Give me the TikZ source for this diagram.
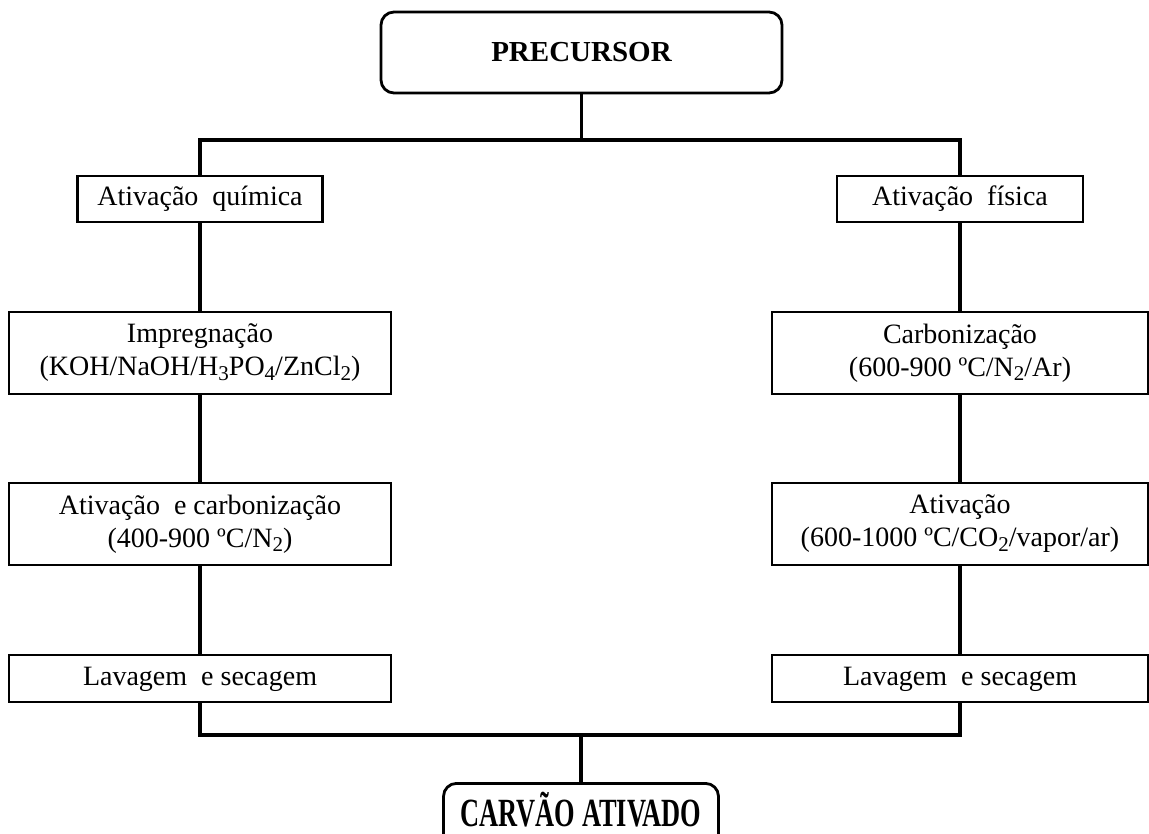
\documentclass[tikz,border=0pt]{standalone}
\usepackage{fontspec}
\setmainfont{Liberation Serif}
\newcommand{\chemsub}[1]{\raisebox{-0.35ex}{\fontsize{21}{21}\selectfont #1}}
\begin{document}
\begin{tikzpicture}[x=1pt,y=-1pt,
  box/.style={draw,line width=2.8pt,inner sep=0pt,align=center,font=\fontsize{28}{33}\selectfont},
  rbox/.style={box,rounded corners=13pt},
  conn/.style={line width=3.2pt}]
\clip (0,0) rectangle (1149,834);
\fill[white] (0,0) rectangle (1149,834);
\coordinate (top) at (0,140);
\coordinate (bot) at (0,735);
\node[rbox,minimum width=401pt,minimum height=81pt,font=\fontsize{29}{33}\selectfont\bfseries] (prec) at (581.5,52.5) {PRECURSOR};
\node[box,minimum width=245pt,minimum height=46pt] (quim) at (200,199) {\strut Ativação \ química};
\node[box,minimum width=246pt,minimum height=46pt] (fis) at (960,199) {\strut Ativação \ física};
\node[box,minimum width=382pt,minimum height=82pt] (imp) at (200,353) {Impregnação\\(KOH/NaOH/H\chemsub{3}PO\chemsub{4}/ZnCl\chemsub{2})};
\node[box,minimum width=376pt,minimum height=82pt] (carb) at (960,353) {Carbonização\\(600-900 ºC/N\chemsub{2}/Ar)};
\node[box,minimum width=382pt,minimum height=82pt] (atcarb) at (200,524) {Ativação \ e carbonização\\(400-900 ºC/N\chemsub{2})};
\node[box,minimum width=376pt,minimum height=82pt] (at) at (960,524) {Ativação\\(600-1000 ºC/CO\chemsub{2}/vapor/ar)};
\node[box,minimum width=382pt,minimum height=47pt] (lavq) at (200,678.5) {\strut Lavagem \ e secagem};
\node[box,minimum width=376pt,minimum height=47pt] (lavf) at (960,678.5) {\strut Lavagem \ e secagem};
\node[rbox,anchor=north,minimum width=275pt,minimum height=72pt] (carv) at (581,782) {\raisebox{0pt}[\height][20pt]{\scalebox{0.66}[1]{\fontsize{40}{40}\selectfont\bfseries CARVÃO ATIVADO}}};
\draw[conn] (prec.south) -- (prec.south |- top);
\draw[conn] (quim.north) -- (quim.north |- top) -- (fis.north |- top) -- (fis.north);
\draw[conn] (quim.south) -- (imp.north);
\draw[conn] (imp.south) -- (atcarb.north);
\draw[conn] (atcarb.south) -- (lavq.north);
\draw[conn] (fis.south) -- (carb.north);
\draw[conn] (carb.south) -- (at.north);
\draw[conn] (at.south) -- (lavf.north);
\draw[conn] (lavq.south) -- (lavq.south |- bot) -- (lavf.south |- bot) -- (lavf.south);
\draw[conn] (carv.north |- bot) -- (carv.north);
\end{tikzpicture}
\end{document}
